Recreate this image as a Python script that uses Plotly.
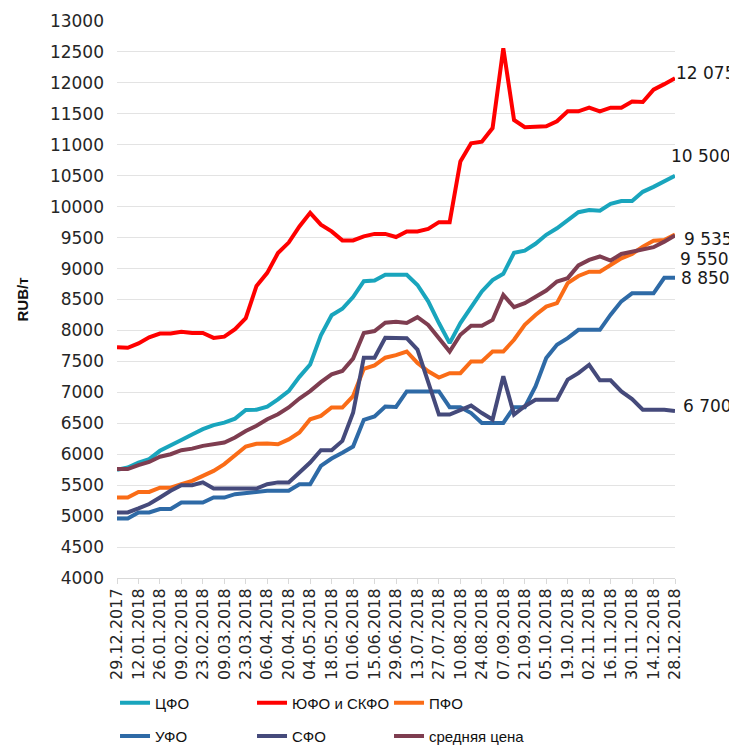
import plotly.graph_objects as go

dates = ["29.12.2017", "05.01.2018", "12.01.2018", "19.01.2018", "26.01.2018", "02.02.2018",
         "09.02.2018", "16.02.2018", "23.02.2018", "02.03.2018", "09.03.2018", "16.03.2018",
         "23.03.2018", "30.03.2018", "06.04.2018", "13.04.2018", "20.04.2018", "27.04.2018",
         "04.05.2018", "11.05.2018", "18.05.2018", "25.05.2018", "01.06.2018", "08.06.2018",
         "15.06.2018", "22.06.2018", "29.06.2018", "06.07.2018", "13.07.2018", "20.07.2018",
         "27.07.2018", "03.08.2018", "10.08.2018", "17.08.2018", "24.08.2018", "31.08.2018",
         "07.09.2018", "14.09.2018", "21.09.2018", "28.09.2018", "05.10.2018", "12.10.2018",
         "19.10.2018", "26.10.2018", "02.11.2018", "09.11.2018", "16.11.2018", "23.11.2018",
         "30.11.2018", "07.12.2018", "14.12.2018", "21.12.2018", "28.12.2018"]

cfo = [5750, 5785, 5865, 5920, 6055, 6135, 6230, 6320, 6405, 6470, 6510, 6575, 6715, 6720,
       6770, 6885, 7020, 7250, 7450, 7920, 8245, 8350, 8540, 8795, 8805, 8900, 8900, 8900,
       8735, 8470, 8120, 7795, 8120, 8385, 8630, 8815, 8915, 9255, 9290, 9400, 9545, 9650,
       9785, 9910, 9945, 9935, 10045, 10090, 10090, 10240, 10320, 10405, 10500]

yufo = [7730, 7720, 7790, 7890, 7950, 7950, 7980, 7960, 7960, 7880, 7900, 8020, 8200, 8720,
        8930, 9250, 9420, 9680, 9900, 9710, 9600, 9455, 9455, 9520, 9560, 9560, 9510, 9600,
        9600, 9640, 9750, 9750, 10730, 11025, 11050, 11270, 12560, 11400, 11285, 11285, 11300,
        11380, 11540, 11540, 11600, 11540, 11600, 11600, 11700, 11690, 11890, 11980, 12075]

pfo = [5300, 5300, 5390, 5390, 5460, 5460, 5515, 5570, 5650, 5730, 5840, 5975, 6125, 6170,
       6175, 6160, 6240, 6350, 6565, 6620, 6755, 6755, 6940, 7380, 7435, 7560, 7600, 7660,
       7475, 7340, 7240, 7310, 7310, 7500, 7500, 7660, 7660, 7850, 8090, 8250, 8385, 8440,
       8765, 8880, 8950, 8950, 9060, 9165, 9235, 9355, 9450, 9460, 9550]

ufo = [4960, 4960, 5060, 5060, 5115, 5115, 5220, 5220, 5220, 5300, 5300, 5355, 5370, 5400,
       5410, 5410, 5410, 5515, 5515, 5810, 5930, 6025, 6125, 6555, 6610, 6770, 6765, 7015,
       7015, 7015, 7015, 6760, 6760, 6665, 6505, 6505, 6505, 6760, 6760, 7095, 7555, 7770,
       7875, 8010, 8010, 8010, 8255, 8470, 8600, 8600, 8600, 8850, 8850]

sfo = [5060, 5060, 5125, 5195, 5300, 5410, 5500, 5500, 5545, 5445, 5445, 5445, 5445, 5445,
       5515, 5545, 5545, 5705, 5865, 6065, 6065, 6215, 6670, 7560, 7560, 7880, 7880, 7875,
       7690, 7150, 6640, 6640, 6720, 6785, 6665, 6560, 7260, 6640, 6775, 6880, 6880, 6880,
       7205, 7310, 7445, 7195, 7195, 7015, 6890, 6720, 6720, 6720, 6700]

avg = [5760, 5760, 5825, 5875, 5960, 6000, 6065, 6090, 6135, 6160, 6190, 6270, 6375, 6460,
       6565, 6645, 6755, 6900, 7020, 7165, 7290, 7345, 7545, 7960, 7990, 8125, 8140, 8120,
       8215, 8090, 7875, 7660, 7930, 8075, 8075, 8170, 8575, 8375, 8440, 8550, 8645, 8790,
       8845, 9050, 9140, 9195, 9130, 9235, 9275, 9310, 9345, 9435, 9535]

series_names = ["ЦФО", "ЮФО и СКФО", "ПФО", "УФО", "СФО", "средняя цена"]
series_values = [cfo, yufo, pfo, ufo, sfo, avg]
series_colors = ["#19A5BD", "#FF0000", "#FA6C17", "#2E6AA6", "#454A7B", "#7E3D50"]
series_legend = ["legend", "legend", "legend", "legend2", "legend2", "legend2"]

end_labels = ["10 500", "12 075", "9 550", "8 850", "6 700", "9 535"]

y_ticks = list(range(4000, 13001, 500))

fig = go.Figure()
for name, vals, col, lg in zip(series_names, series_values, series_colors, series_legend):
    fig.add_trace(go.Scatter(x=dates, y=vals, name=name, mode="lines",
                             line=dict(color=col, width=4), legend=lg))

# end-of-line labels: (xshift, yshift) offsets
offsets = [(-6, 20), (-1, 5), (3, -24), (4, 0), (6, 5), (7, -4)]
for vals, txt, (dx, dy) in zip(series_values, end_labels, offsets):
    fig.add_annotation(x=dates[-1], y=vals[-1], text=txt, showarrow=False,
                       xanchor="left", yanchor="middle", xshift=dx, yshift=dy,
                       font=dict(family="DejaVu Sans", size=17, color="#1a1a1a"))

leg_font = dict(family="Liberation Sans", size=15, color="#111")
fig.update_layout(
    width=729, height=740,
    margin=dict(l=109, r=62, t=13, b=170, autoexpand=False),
    plot_bgcolor="white", paper_bgcolor="white",
    font=dict(family="DejaVu Sans", color="#262626"),
    legend=dict(orientation="h", xref="container", yref="container",
                x=0.1468, y=0.0608, xanchor="left", yanchor="middle",
                entrywidth=92, font=leg_font,
                bgcolor="rgba(0,0,0,0)", itemwidth=30, tracegroupgap=0),
    legend2=dict(orientation="h", xref="container", yref="container",
                 x=0.1468, y=0.016, xanchor="left", yanchor="middle",
                 entrywidth=92, font=leg_font,
                 bgcolor="rgba(0,0,0,0)", itemwidth=30, tracegroupgap=0),
    xaxis=dict(type="category", range=[0, len(dates) - 1], automargin=False,
               tickmode="array", tickvals=dates[::2], ticktext=dates[::2],
               tickangle=-90, tickfont=dict(family="DejaVu Sans", size=16, color="#262626"),
               ticklabelstandoff=-2,
               showgrid=False, showline=True, linecolor="#D9D9D9", linewidth=1,
               ticks="outside", ticklen=5, tickcolor="#D9D9D9", zeroline=False),
    yaxis=dict(range=[4000, 13000], tickvals=y_ticks, tickformat="d", automargin=False,
               showgrid=True, gridcolor="#E3E3E3", gridwidth=1, zeroline=False, showline=False,
               tickfont=dict(family="DejaVu Sans", size=17, color="#262626"),
               ticklabelstandoff=12,
               title=dict(text="<b>RUB/т</b>", standoff=17,
                          font=dict(family="Liberation Sans", size=15, color="#111"))),
)

fig.write_html("out.html")
